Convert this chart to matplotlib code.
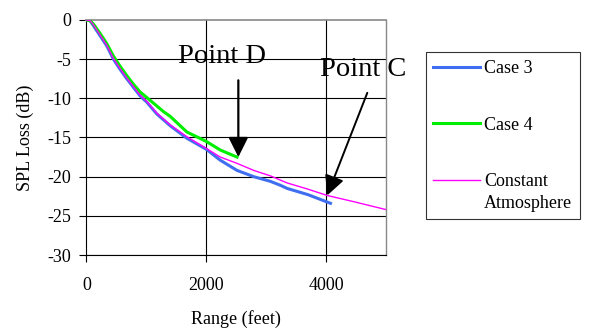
import matplotlib.pyplot as plt
from matplotlib.legend_handler import HandlerLine2D
from matplotlib.transforms import Affine2D

# values
case3_x = [0, 60, 114, 226, 338, 449, 561, 673, 784, 896, 1008, 1175, 1398, 1677, 2000, 2235, 2514, 2793, 3072, 3238, 3351, 3700, 4075]
case3_y = [0, -0.1, -0.7, -2.0, -3.3, -5.0, -6.3, -7.5, -8.6, -9.7, -10.5, -12.0, -13.5, -15.1, -16.5, -17.9, -19.2, -20.0, -20.6, -21.1, -21.5, -22.3, -23.4]

case4_x = [0, 60, 114, 226, 338, 449, 561, 673, 784, 896, 1008, 1286, 1398, 1677, 2000, 2235, 2514]
case4_y = [0, -0.1, -0.5, -1.7, -3.0, -4.6, -5.9, -7.1, -8.2, -9.2, -9.9, -11.7, -12.3, -14.3, -15.5, -16.6, -17.5]

const_x = [0, 60, 114, 226, 338, 449, 561, 673, 784, 896, 1008, 1175, 1398, 1677, 2000, 2235, 2514, 2793, 3072, 3351, 3700, 4020, 4467, 5000]
const_y = [0, -0.1, -0.6, -1.9, -3.2, -4.9, -6.2, -7.4, -8.5, -9.6, -10.4, -11.9, -13.4, -14.9, -16.4, -17.5, -18.3, -19.2, -19.9, -20.8, -21.6, -22.4, -23.2, -24.2]

x_ticks = [0, 2000, 4000]
y_ticks = [0, -5, -10, -15, -20, -25, -30]


class TopLineHandler(HandlerLine2D):
    # put the handle level with the first line of a two-line label
    def __init__(self, shift, **kw):
        super().__init__(**kw)
        self.shift = shift

    def create_artists(self, legend, orig_handle, xdescent, ydescent, width, height, fontsize, trans):
        arts = super().create_artists(legend, orig_handle, xdescent, ydescent, width, height, fontsize, trans)
        t = Affine2D().translate(0, self.shift) + trans
        for a in arts:
            a.set_transform(t)
        return arts


plt.rcParams['font.family'] = ['Liberation Serif', 'DejaVu Serif']
fs = 13

fig = plt.figure(figsize=(5.9, 3.31), dpi=100)
ax = fig.add_axes([0.1466, 0.2296, 0.5074, 0.71])

l3, = ax.plot(case3_x, case3_y, color='#3f6ff0', lw=2.2, label='Case 3', zorder=3)
l4, = ax.plot(case4_x, case4_y, color='#00ee00', lw=2.2, label='Case 4', zorder=3)
lc, = ax.plot(const_x, const_y, color='#ff00ff', lw=1.0, label='Constant\nAtmosphere', zorder=4)

ax.set_xlim(0, 5000)
ax.set_ylim(-30, 0)
ax.set_xticks(x_ticks)
ax.set_yticks(y_ticks)
ax.set_yticklabels([str(v) for v in y_ticks])
ax.tick_params(labelsize=fs, length=5, width=0.8, color='black')
ax.tick_params(axis='x', pad=11)
ax.tick_params(axis='y', pad=6)

for v in y_ticks[1:]:
    ax.axhline(v, color='#000000', lw=0.8, zorder=1)
for v in x_ticks[1:]:
    ax.axvline(v, color='#000000', lw=0.8, zorder=1)

ax.spines['left'].set_color('black')
ax.spines['bottom'].set_color('black')
ax.spines['top'].set_color('#888888')
ax.spines['right'].set_color('#888888')
ax.spines['top'].set_linewidth(1.2)
ax.spines['right'].set_linewidth(1.0)

ax.set_ylabel('SPL Loss (dB)', fontsize=fs)
ax.yaxis.set_label_coords(-0.175, 0.5)
ax.set_xlabel('Range (feet)', fontsize=fs, va='top')
ax.xaxis.set_label_coords(0.5, -0.235)

ax.text(2268, -4.7, 'Point D', fontsize=20.5, ha='center', va='center', zorder=5)
ax.text(4615, -6.3, 'Point C', fontsize=20.5, ha='center', va='center', zorder=5)
astyle = '-|>,head_length=0.6,head_width=0.3'
ax.annotate('', xy=(2536, -17.5), xytext=(2536, -7.7),
            arrowprops=dict(arrowstyle=astyle, color='black', lw=1.6, mutation_scale=20,
                            shrinkA=0, shrinkB=0))
ax.annotate('', xy=(4020, -22.4), xytext=(4690, -9.3),
            arrowprops=dict(arrowstyle=astyle, color='black', lw=1.4, mutation_scale=20,
                            shrinkA=0, shrinkB=0),
            annotation_clip=False)

leg = fig.legend(handles=[l3, l4, lc], loc='upper left', bbox_to_anchor=(0.7215, 0.842),
                 fontsize=fs, frameon=True, fancybox=False, edgecolor='black',
                 handlelength=2.6, handletextpad=0.2, labelspacing=2.2,
                 borderpad=0.42, borderaxespad=0,
                 handler_map={lc: TopLineHandler(shift=9.0)})
leg.get_frame().set_linewidth(0.8)
for t in leg.get_texts():
    t.set_linespacing(1.35)

fig.savefig('out.png', dpi=100)
